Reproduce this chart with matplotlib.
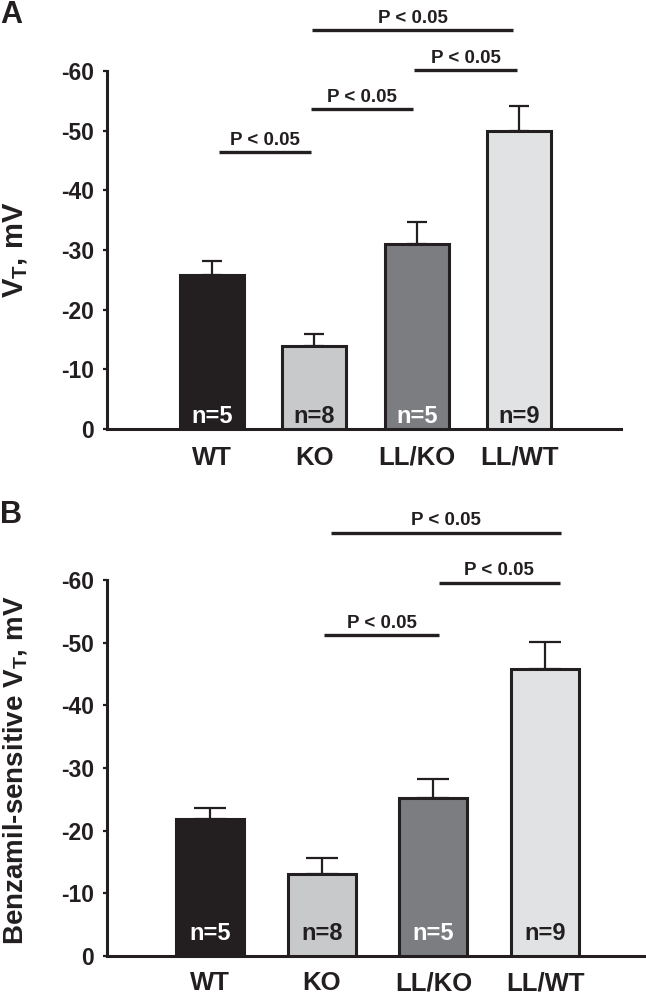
import matplotlib
matplotlib.use("Agg")
import matplotlib.pyplot as plt
import numpy as np

plt.rcParams['font.family'] = ['Liberation Sans', 'DejaVu Sans']
plt.rcParams['font.weight'] = 'bold'
plt.rcParams['axes.unicode_minus'] = False
plt.rcParams['mathtext.fontset'] = 'custom'
plt.rcParams['mathtext.rm'] = 'Liberation Sans:bold'
plt.rcParams['mathtext.it'] = 'Liberation Sans:bold'
plt.rcParams['mathtext.bf'] = 'Liberation Sans:bold'
plt.rcParams['mathtext.default'] = 'rm'

# ---------------- data ----------------
groups = ["WT", "KO", "LL/KO", "LL/WT"]
n_counts = [5, 8, 5, 9]

vt_mean = [-25.8, -13.9, -31.0, -49.9]
vt_sem = [2.4, 2.0, 3.7, 4.2]

benz_mean = [-21.8, -13.1, -25.2, -45.8]
benz_sem = [1.8, 2.5, 3.0, 4.3]

yticks = [0, -10, -20, -30, -40, -50, -60]

# significance brackets: (x start, x end, level in mV)
sig_a_spans = [(0.07, 0.97), (0.97, 1.96), (1.97, 2.98), (0.98, 2.94)]
sig_a_levels = [-46.4, -53.6, -60.1, -66.8]
sig_b_spans = [(1.02, 2.05), (2.05, 3.13), (1.08, 3.14)]
sig_b_levels = [-51.2, -59.5, -67.5]
sig_text = "P < 0.05"

# ---------------- style ----------------
INK = "#231f20"
fills = ["#231f20", "#c8c9cb", "#7c7d80", "#e1e2e3"]
n_colors = ["white", INK, "white", INK]

W, H = 646, 996
fig = plt.figure(figsize=(W / 100, H / 100), dpi=100)
fig.patch.set_facecolor("white")


def px_axes(left, right, top, bottom):
    return fig.add_axes([left / W, (H - bottom) / H, (right - left) / W, (bottom - top) / H])


def panel(ax, means, sems, xlim, width, capsize, n_off, xpad, spans, levels):
    x = np.arange(len(groups))
    ax.bar(x, means, width=width, color=fills, edgecolor=INK, linewidth=2.2, zorder=3)
    ax.errorbar(x, means, yerr=[sems, np.zeros(len(sems))], fmt="none", ecolor=INK,
                elinewidth=1.6, capsize=capsize, capthick=1.6, zorder=2)
    ax.set_xlim(*xlim)
    ax.set_ylim(0, -60)
    ax.set_yticks(yticks)
    ax.set_xticks(x, groups)
    for s in ["top", "right"]:
        ax.spines[s].set_visible(False)
    for s in ["left", "bottom"]:
        ax.spines[s].set_linewidth(2.2)
        ax.spines[s].set_color(INK)
    ax.tick_params(axis="y", direction="out", length=3, width=1.6, pad=6.5,
                   labelsize=16.5, colors=INK)
    ax.tick_params(axis="x", length=0, pad=xpad, labelsize=18.5, colors=INK)
    for xi, n, c in zip(x, n_counts, n_colors):
        ax.annotate(f"n={n}", xy=(xi, 0), xytext=(0, n_off), textcoords="offset points",
                    ha="center", va="baseline", fontsize=17, color=c,
                    fontweight="bold", zorder=5, annotation_clip=False)
    for (x0, x1), lvl in zip(spans, levels):
        ax.plot([x0, x1], [lvl, lvl], color=INK, lw=2.4, clip_on=False,
                solid_capstyle="butt", zorder=4)
        ax.annotate(sig_text, xy=((x0 + x1) / 2, lvl), xytext=(0, 5.5),
                    textcoords="offset points", ha="center", va="baseline",
                    fontsize=13.5, color=INK, fontweight="bold", annotation_clip=False)
    return ax


axA = px_axes(107, 621, 71, 429)
panel(axA, vt_mean, vt_sem, (-1.025, 3.994), 0.625, 7.5, 4.3, 12,
      sig_a_spans, sig_a_levels)

axB = px_axes(107, 652, 580, 956)
panel(axB, benz_mean, benz_sem, (-0.922, 3.957), 0.61, 11.5, 11.5, 11,
      sig_b_spans, sig_b_levels)

fig.text(1 / W, 1 - 250 / H, r"V$_\mathregular{T}$, mV", rotation=90, ha="left",
         va="center", fontsize=21, fontweight="bold", color=INK)
fig.text(1 / W, 1 - 770 / H, r"Benzamil-sensitive V$_\mathregular{T}$, mV", rotation=90,
         ha="left", va="center", fontsize=20, fontweight="bold", color=INK)

fig.text(0, 1 - 23 / H, "A", ha="left", va="baseline", fontsize=22, fontweight="bold",
         color=INK)
fig.text(0, 1 - 523 / H, "B", ha="left", va="baseline", fontsize=22, fontweight="bold",
         color=INK)

fig.savefig("out.png", dpi=100)
